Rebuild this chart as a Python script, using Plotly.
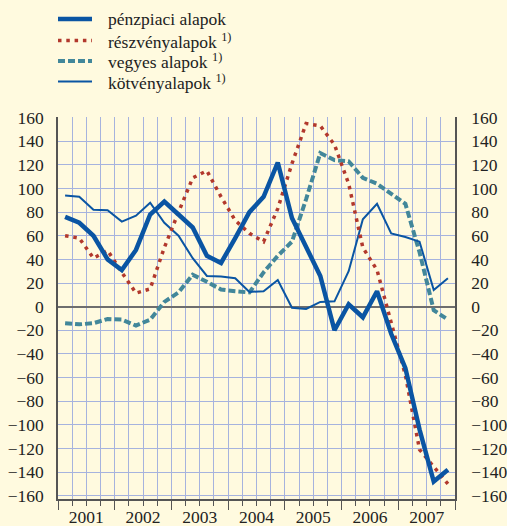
import plotly.graph_objects as go

# ---- data (quarterly, 2001 Q1 - 2007 Q4) ----
years = ["2001", "2002", "2003", "2004", "2005", "2006", "2007"]
quarters = [f"{y} Q{q}" for y in years for q in range(1, 5)]

penzpiaci = [76, 71, 60, 40, 31, 48, 78, 89, 78, 67, 43, 37, 58, 80,
             93, 122, 75, 51, 26, -20, 2, -9, 13, -23, -52, -104, -148, -138]
reszveny = [60, 58, 41, 47.5, 29, 11.5, 15, 50, 80, 109, 115, 93, 73, 62,
            55, 83, 121, 155, 153, 137, 104, 50, 31, -13, -58, -121, -135, -150]
vegyes = [-14, -15, -14, -10.5, -11, -16, -11, 4, 12, 27, 21, 14.5, 13, 12,
          29, 43, 55, 91, 130, 124, 123, 109, 104, 96, 87, 46, -3, -11]
kotveny = [94, 93, 82, 81.5, 72, 77, 88, 71, 60, 41, 26, 25.5, 24, 12.5,
           13, 22.5, -1, -2, 4, 4.5, 30, 74, 87, 62, 59, 55, 14, 24]

names = ["pénzpiaci alapok", "részvényalapok <sup>1)</sup>",
         "vegyes alapok <sup>1)</sup>", "kötvényalapok <sup>1)</sup>"]

x = [i + 0.5 for i in range(len(quarters))]
n_q = len(quarters)

W, H = 507, 526
ML, MR, MT, MB = 58, 52, 117, 27
PW, PH = W - ML - MR, H - MT - MB

BG = "#FFFADF"
GRID = "#A6B3DE"
AXIS = "#555555"
FONT = "Liberation Serif"
FS = 17.5
BLUE = "#0A55A3"
RED = "#B2382C"
TEAL = "#42879A"

styles = {
    "penz": dict(color=BLUE, width=4.5),
    "resz": dict(color=RED, width=3.5, dash="3.5px,4.8px"),
    "vegy": dict(color=TEAL, width=4, dash="7px,3px"),
    "kotv": dict(color=BLUE, width=2),
}

fig = go.Figure()
fig.add_trace(go.Scatter(x=x, y=vegyes, name=names[2], mode="lines",
                         line=styles["vegy"], customdata=quarters, showlegend=False))
fig.add_trace(go.Scatter(x=x, y=kotveny, name=names[3], mode="lines",
                         line=styles["kotv"], customdata=quarters, showlegend=False))
fig.add_trace(go.Scatter(x=x, y=reszveny, name=names[1], mode="lines",
                         line=styles["resz"], customdata=quarters, showlegend=False))
fig.add_trace(go.Scatter(x=x, y=penzpiaci, name=names[0], mode="lines",
                         line=styles["penz"], customdata=quarters, showlegend=False))
# helper trace to create the overlay axes (no data)
fig.add_trace(go.Scatter(x=[], y=[], xaxis="x2", yaxis="y2", showlegend=False,
                         hoverinfo="skip"))


def px_x(p):
    return (p - ML) / PW


def px_y(p):
    return (H - MB - p) / PH


# legend (drawn as line samples + text)
legend_rows = [("penz", names[0]), ("resz", names[1]), ("vegy", names[2]),
               ("kotv", names[3])]
row_y = [19, 40.5, 61, 81.5]
for (key, label), ry in zip(legend_rows, row_y):
    fig.add_shape(type="line", xref="paper", yref="paper",
                  x0=px_x(58), x1=px_x(92), y0=px_y(ry), y1=px_y(ry),
                  line=styles[key])
    fig.add_annotation(xref="paper", yref="paper", x=px_x(106), y=px_y(ry),
                       xanchor="left", yanchor="middle", showarrow=False,
                       text=label, font=dict(family=FONT, size=FS, color="#222"))

yr = [-162.8, 160.5]
tickvals_y = list(range(-160, 161, 20))

fig.update_layout(
    width=W, height=H,
    paper_bgcolor=BG, plot_bgcolor=BG,
    margin=dict(l=ML, r=MR, t=MT, b=MB, autoexpand=False),
    font=dict(family=FONT, size=FS, color="#222"),
    showlegend=False,
    xaxis=dict(range=[0, n_q], tickmode="array",
               tickvals=[4 * i + 2 for i in range(len(years))], ticktext=years,
               tickangle=0, automargin=False,
               ticks="outside", ticklen=1, tickcolor="rgba(0,0,0,0)",
               showgrid=True, gridcolor=GRID, gridwidth=1.2,
               minor=dict(dtick=1, tick0=0, showgrid=True, gridcolor=GRID,
                          gridwidth=1.2, ticks=""),
               showline=True, linecolor=AXIS, linewidth=1.5,
               zeroline=False, fixedrange=True),
    xaxis2=dict(range=[0, n_q], overlaying="x", anchor="y", side="bottom",
                tickmode="linear", tick0=0, dtick=4, ticks="outside",
                ticklen=10, tickwidth=1.3, tickcolor=AXIS, automargin=False,
                minor=dict(dtick=1, tick0=0, ticks="outside", ticklen=6,
                           tickwidth=1.3, tickcolor=AXIS),
                showticklabels=False, showgrid=False, zeroline=False,
                showline=False),
    yaxis=dict(range=yr, tickmode="array", tickvals=tickvals_y, automargin=False,
               ticks="outside", ticklen=9, tickcolor="rgba(0,0,0,0)",
               showgrid=True, gridcolor=GRID, gridwidth=1.2,
               zeroline=True, zerolinecolor="#6E6E6E", zerolinewidth=2,
               showline=True, linecolor=AXIS, linewidth=1.5),
    yaxis2=dict(range=yr, overlaying="y", anchor="x", side="right",
                tickmode="array", tickvals=tickvals_y, automargin=False,
                ticks="outside", ticklen=11, tickcolor="rgba(0,0,0,0)",
                showgrid=False, zeroline=False,
                showline=True, linecolor=AXIS, linewidth=1.5),
)

fig.write_html(
    "out.html",
    config={"displayModeBar": False},
    post_script="document.body.style.margin='0';"
                "document.body.style.background='" + BG + "';",
)
